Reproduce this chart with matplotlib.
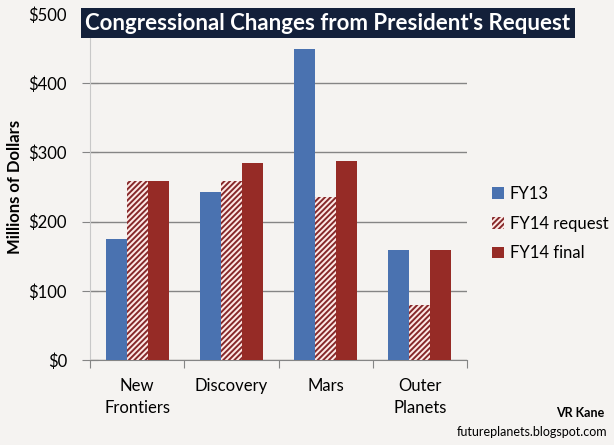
import matplotlib
matplotlib.use("Agg")
import matplotlib.pyplot as plt
import numpy as np
from matplotlib.patches import Patch
from matplotlib.ticker import FixedLocator, NullFormatter

categories = ["New\nFrontiers", "Discovery", "Mars", "Outer\nPlanets"]
fy13 = [175, 243, 449, 159]
fy14_request = [258, 258, 235, 80]
fy14_final = [258, 285, 288, 159]
yticks = [0, 100, 200, 300, 400, 500]
ytick_labels = ["$0", "$100", "$200", "$300", "$400", "$500"]

BG = "#f5f3f1"
BLUE = "#4a72b0"
RED = "#962b26"
HATCH_BG = "#fde9e5"
HATCH = "/" * 6

plt.rcParams["font.family"] = ["Lato", "DejaVu Sans"]
plt.rcParams["hatch.color"] = "#86282a"
plt.rcParams["hatch.linewidth"] = 1.4

fig = plt.figure(figsize=(6.14, 4.45), dpi=100, facecolor=BG)
ax = fig.add_axes([90 / 614, 1 - 360 / 445, (467 - 90) / 614, (360 - 14) / 445])
ax.set_facecolor(BG)

x = np.arange(len(categories))
w = 0.222
ax.bar(x - w, fy13, w, color=BLUE, label="FY13", zorder=3)
ax.bar(x, fy14_request, w, color=HATCH_BG, hatch=HATCH, edgecolor="#86282a",
       linewidth=0, label="FY14 request", zorder=3)
ax.bar(x + w, fy14_final, w, color=RED, label="FY14 final", zorder=3)

ax.set_xlim(-0.5, len(categories) - 0.5)
ax.set_ylim(0, 500)
ax.set_yticks(yticks)
ax.set_yticklabels(ytick_labels, fontsize=12)
ax.yaxis.grid(True, color="#858585", linewidth=1.0, zorder=0)
ax.set_axisbelow(True)

ax.xaxis.set_major_locator(FixedLocator(np.arange(len(categories) + 1) - 0.5))
ax.xaxis.set_major_formatter(NullFormatter())
ax.xaxis.set_minor_locator(FixedLocator(x))
ax.set_xticklabels(categories, minor=True, fontsize=12, va="top")
for t in ax.get_xticklabels(minor=True):
    t.set_linespacing(1.45)
ax.tick_params(axis="x", which="major", length=6, direction="out", color="#858585")
ax.tick_params(axis="x", which="minor", length=0, pad=13)
ax.tick_params(axis="y", length=11, direction="inout", color="#858585", pad=11)

for s in ["top", "right"]:
    ax.spines[s].set_visible(False)
ax.spines["left"].set_color("#c8c8c8")
ax.spines["bottom"].set_color("#858585")

ax.set_ylabel("Millions of Dollars", fontsize=12, fontweight="bold", labelpad=4)

fig.text(328 / 614, 1 - 23 / 445, "Congressional Changes from President's Request",
         fontsize=16, fontweight="bold", color="white", ha="center", va="center",
         bbox=dict(boxstyle="square,pad=0.2", facecolor="#13203a", edgecolor="none"))

handles = [Patch(facecolor=BLUE),
           Patch(facecolor=HATCH_BG, hatch=HATCH, edgecolor="#86282a", linewidth=0),
           Patch(facecolor=RED)]
fig.legend(handles, ["FY13", "FY14 request", "FY14 final"], loc="upper left",
           bbox_to_anchor=(492 / 614, 1 - 186 / 445), frameon=False, fontsize=12,
           borderpad=0, borderaxespad=0,
           handlelength=0.7, handleheight=0.7, handletextpad=0.35, labelspacing=0.82)

fig.text(604 / 614, 1 - 413 / 445, "VR Kane", fontsize=9, fontweight="bold",
         ha="right", va="center")
fig.text(607 / 614, 1 - 432 / 445, "futureplanets.blogspot.com", fontsize=9,
         ha="right", va="center")

fig.savefig("out.png", dpi=100, facecolor=BG)
